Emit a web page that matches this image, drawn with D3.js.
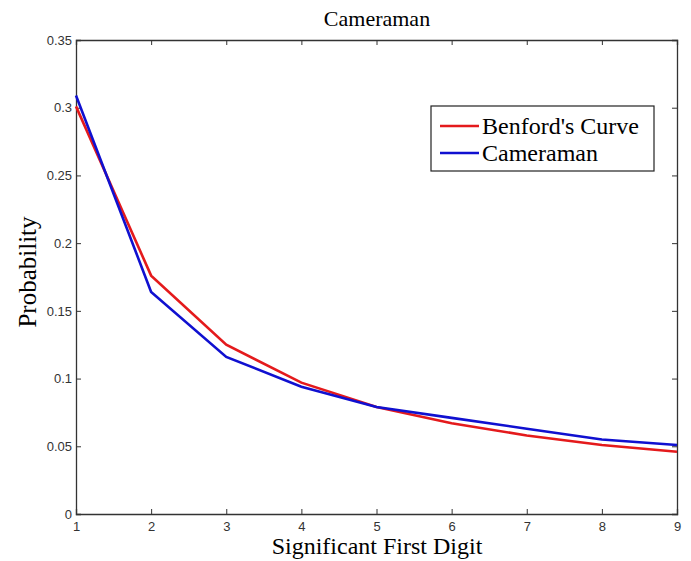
<!DOCTYPE html>
<html>
<head>
<meta charset="UTF-8">
<script src="https://d3js.org/d3.v7.min.js"></script>
<style>
  body { margin: 0; background: #fff; }
  .tick text { font-family: "Liberation Sans", Arial, sans-serif; font-size: 13px; fill: #333; }
</style>
</head>
<body>
<svg id="chart"></svg>
<script>
const digits = [1, 2, 3, 4, 5, 6, 7, 8, 9];
const benford = [0.301, 0.176, 0.125, 0.097, 0.079, 0.067, 0.058, 0.051, 0.046];
const cameraman = [0.309, 0.164, 0.116, 0.094, 0.079, 0.071, 0.063, 0.055, 0.051];
const yTicks = [0, 0.05, 0.1, 0.15, 0.2, 0.25, 0.3, 0.35];
const seriesNames = ["Benford's Curve", "Cameraman"];
const seriesColors = ["#e41a1c", "#1010d0"];

const W = 691, H = 561;
const m = {top: 40, right: 14, bottom: 47, left: 76};

const svg = d3.select("#chart").attr("width", W).attr("height", H);

const x = d3.scaleLinear().domain([1, 9]).range([m.left, W - m.right]);
const y = d3.scaleLinear().domain([0, 0.35]).range([H - m.bottom, m.top]);

// axes (ticks pointing inward, box style)
svg.append("g")
  .attr("transform", `translate(0,${H - m.bottom})`)
  .call(d3.axisBottom(x).tickValues(digits).tickSize(-5).tickPadding(8).tickFormat(d3.format("d")));
svg.append("g")
  .attr("transform", `translate(0,${m.top})`)
  .call(d3.axisTop(x).tickValues(digits).tickSize(-5).tickFormat(""));
svg.append("g")
  .attr("transform", `translate(${m.left},0)`)
  .call(d3.axisLeft(y).tickValues(yTicks).tickSize(-5).tickPadding(4).tickFormat(d => d === 0 ? "0" : d3.format("~g")(d)));
svg.append("g")
  .attr("transform", `translate(${W - m.right},0)`)
  .call(d3.axisRight(y).tickValues(yTicks).tickSize(-5).tickFormat(""));

svg.selectAll(".domain").attr("stroke", "#333").attr("stroke-width", 1.3);
svg.selectAll(".tick line").attr("stroke", "#333");

// lines
const line = d3.line().x((d, i) => x(digits[i])).y(d => y(d));
[benford, cameraman].forEach((s, k) => {
  svg.append("path")
    .datum(s)
    .attr("fill", "none")
    .attr("stroke", seriesColors[k])
    .attr("stroke-width", 2.6)
    .attr("d", line);
});

// title and labels
const serif = "'Liberation Serif', 'Times New Roman', serif";
svg.append("text")
  .attr("x", 377).attr("y", 26)
  .attr("text-anchor", "middle")
  .style("font-family", serif)
  .style("font-size", "22px")
  .text("Cameraman");

svg.append("text")
  .attr("x", 377).attr("y", 554)
  .attr("text-anchor", "middle")
  .style("font-family", serif)
  .style("font-size", "24px")
  .text("Significant First Digit");

svg.append("text")
  .attr("transform", `translate(36,272) rotate(-90)`)
  .attr("text-anchor", "middle")
  .style("font-family", serif)
  .style("font-size", "25px")
  .text("Probability");

// legend
const lg = svg.append("g").attr("transform", "translate(431,106)");
lg.append("rect").attr("width", 223).attr("height", 65)
  .attr("fill", "#fff").attr("stroke", "#222").attr("stroke-width", 1.2);
seriesNames.forEach((n, i) => {
  const yy = 20 + i * 27;
  lg.append("line").attr("x1", 9).attr("x2", 48).attr("y1", yy).attr("y2", yy)
    .attr("stroke", seriesColors[i]).attr("stroke-width", 2.6);
  lg.append("text").attr("x", 51).attr("y", yy + 8)
    .style("font-family", serif)
    .style("font-size", "24px")
    .text(n);
});
</script>
</body>
</html>
